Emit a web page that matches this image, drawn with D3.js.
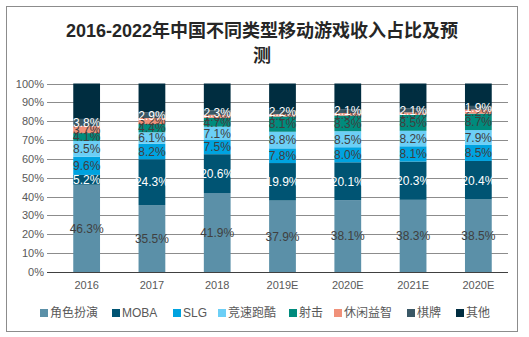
<!DOCTYPE html>
<html>
<head>
<meta charset="utf-8">
<script src="https://cdn.jsdelivr.net/npm/d3@7"></script>
<style>
body { margin: 0; background: #fff; }
text { font-family: Arial, "Liberation Sans", "Noto Sans CJK SC", sans-serif; }
</style>
</head>
<body>
<script>
// 年份和各类型收入占比（%）
var years = ["2016", "2017", "2018", "2019E", "2020E", "2021E", "2020E"];
var types = ["角色扮演", "MOBA", "SLG", "竞速跑酷", "射击", "休闲益智", "棋牌", "其他"];
var juese = [46.3, 35.5, 41.9, 37.9, 38.1, 38.3, 38.5];
var moba = [5.2, 24.3, 20.6, 19.9, 20.1, 20.3, 20.4];
var slg = [9.6, 8.2, 7.5, 7.8, 8.0, 8.1, 8.5];
var jingsu = [8.5, 6.1, 7.1, 8.8, 8.5, 8.2, 7.9];
var sheji = [4.1, 4.4, 4.7, 8.1, 8.3, 8.5, 8.7];
var xiuxian = [3.7, 3.2, 1.6, 1.2, 1.3, 1.3, 2.2];
var qipai = [3.8, 2.9, 2.3, 2.2, 2.1, 2.1, 1.9];
var qita = [18.8, 15.4, 14.3, 14.1, 13.6, 13.2, 11.9];
var yTicks = [0, 10, 20, 30, 40, 50, 60, 70, 80, 90, 100];

var colors = ["#5b90a8", "#005473", "#00a3e0", "#6ccff6", "#008b7d", "#f0917a", "#3a5866", "#002d40"];
var labelColors = ["#404040", "#ffffff", "#404040", "#404040", "#404040", "#404040", "#ffffff", null];

var series = [juese, moba, slg, jingsu, sheji, xiuxian, qipai, qita];
var rows = years.map(function(y, i) {
  var r = { idx: i, year: y };
  types.forEach(function(t, k) { r[t] = series[k][i]; });
  return r;
});

var W = 529, H = 337;
var svg = d3.select("body").append("svg")
  .attr("width", W)
  .attr("height", H);

svg.append("rect")
  .attr("x", 6.5).attr("y", 6.5)
  .attr("width", 511).attr("height", 325)
  .attr("fill", "#fff")
  .attr("stroke", "#8c8c8c");

svg.append("text")
  .attr("x", 262).attr("y", 37)
  .attr("text-anchor", "middle")
  .attr("font-size", 18).attr("font-weight", "bold")
  .attr("fill", "#262626")
  .text("2016-2022年中国不同类型移动游戏收入占比及预");
svg.append("text")
  .attr("x", 262).attr("y", 62)
  .attr("text-anchor", "middle")
  .attr("font-size", 18).attr("font-weight", "bold")
  .attr("fill", "#262626")
  .text("测");

var x = d3.scaleBand()
  .domain(d3.range(years.length))
  .range([54, 511])
  .paddingInner(0.59)
  .paddingOuter(0.295);

var y = d3.scaleLinear()
  .domain([0, 100])
  .range([272, 83.5]);

// 网格线
svg.append("g")
  .selectAll("line")
  .data(yTicks.slice(1))
  .join("line")
  .attr("x1", 47).attr("x2", 508)
  .attr("y1", function(d) { return Math.round(y(d)) + 0.5; })
  .attr("y2", function(d) { return Math.round(y(d)) + 0.5; })
  .attr("stroke", "#8c8c8c");

var yAxis = svg.append("g")
  .attr("transform", "translate(47,0)")
  .call(d3.axisLeft(y).tickValues(yTicks).tickSize(0).tickPadding(3).tickFormat(function(d) { return d + "%"; }));
yAxis.select(".domain").remove();
yAxis.selectAll("text").attr("font-size", 11).attr("fill", "#595959");

var stack = d3.stack().keys(types);
var layers = stack(rows);

var groups = svg.append("g")
  .selectAll("g")
  .data(layers)
  .join("g")
  .attr("fill", function(d, i) { return colors[i]; });

groups.selectAll("rect")
  .data(function(d) { return d; })
  .join("rect")
  .attr("x", function(d) { return x(d.data.idx); })
  .attr("width", x.bandwidth())
  .attr("y", function(d) { return y(d[1]); })
  .attr("height", function(d) { return y(d[0]) - y(d[1]); });

// 0% 轴线
svg.append("line")
  .attr("x1", 47).attr("x2", 508)
  .attr("y1", Math.round(y(0)) + 0.5).attr("y2", Math.round(y(0)) + 0.5)
  .attr("stroke", "#404040");

// 数据标签
layers.forEach(function(layer, k) {
  if (!labelColors[k]) return;
  svg.append("g")
    .selectAll("text")
    .data(layer)
    .join("text")
    .attr("x", function(d) { return x(d.data.idx) + x.bandwidth() / 2; })
    .attr("y", function(d) { return (y(d[0]) + y(d[1])) / 2; })
    .attr("dy", "0.36em")
    .attr("text-anchor", "middle")
    .attr("font-size", 12)
    .attr("fill", labelColors[k])
    .style("font-family", "'Liberation Sans Narrow', Arial, sans-serif")
    .text(function(d) { return d.data[types[k]].toFixed(1) + "%"; });
});

var xAxis = svg.append("g")
  .attr("transform", "translate(0,272)")
  .call(d3.axisBottom(x).tickSize(0).tickPadding(9).tickFormat(function(i) { return years[i]; }));
xAxis.select(".domain").remove();
xAxis.selectAll("text").attr("font-size", 11).attr("fill", "#595959");

// 图例
var legendX = [40, 112, 173, 218, 289, 334, 407, 456];
var legend = svg.append("g")
  .selectAll("g")
  .data(types)
  .join("g")
  .attr("transform", function(d, i) { return "translate(" + legendX[i] + ",313)"; });
legend.append("rect")
  .attr("x", 0).attr("y", -4)
  .attr("width", 8).attr("height", 8)
  .attr("fill", function(d, i) { return colors[i]; });
legend.append("text")
  .attr("x", 10).attr("dy", "0.36em")
  .attr("font-size", 12)
  .attr("fill", "#595959")
  .text(function(d) { return d; });
</script>
</body>
</html>
